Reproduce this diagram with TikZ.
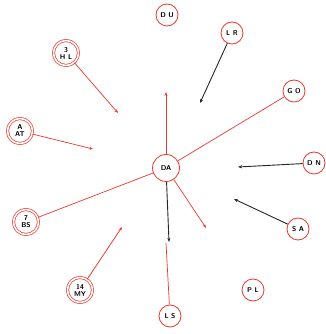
\documentclass[tikz,border=0pt]{standalone}
\usetikzlibrary{arrows.meta}
\definecolor{ring}{HTML}{E8392E}
\definecolor{ink}{HTML}{262626}

\begin{document}
\begin{tikzpicture}[x=1pt,y=1pt,font=\sffamily\bfseries\fontsize{7}{7}\selectfont,
  site/.style={circle,draw=ring,line width=0.8pt,minimum size=22pt,inner sep=0pt,align=center},
  hub/.style={site,double=white,double distance=1.6pt,line width=0.7pt,minimum size=25pt},
  pull/.style={ring,line width=0.7pt,-{Stealth[length=4pt,width=3pt]}},
  push/.style={ink,line width=0.9pt,-{Stealth[length=4pt,width=3pt]}},
  tie/.style={ring,line width=0.7pt}]
  \useasboundingbox (0,0) rectangle (325,334);
  % sites
  \foreach \nm/\x/\y/\txt in {du/167/319/{D U},lr/232/301/{L R},go/294/243/{G O},
    dn/314/171/{D N},sa/298/105/{S A},pl/253/44/{P L},ls/170/18/{L S}}{
    \node[site] (\nm) at (\x,\y) {\txt};}
  \node[site,minimum size=27pt] (da) at (166,166) {DA};
  \foreach \nm/\x/\y/\txt in {hl/66/281/{3\\H L},at/20/203/{A\\AT},
    bs/26/112/{7\\BS},my/80/44/{14\\MY}}{
    \node[hub] (\nm) at (\x,\y) {\txt};}
  % free ends
  \coordinate (hlend) at (118,221);
  \coordinate (atend) at (93,185);
  \coordinate (lrend) at (200,231);
  \coordinate (upend) at (166,242);
  \coordinate (dnend) at (238,167);
  \coordinate (saend) at (234,135);
  \coordinate (drend) at (206,106);
  \coordinate (myend) at (122,107);
  \coordinate (dwend) at (169,92);
  \coordinate (lsend) at (166,91);
  % arrows
  \draw[pull] (hl) -- (hlend);
  \draw[pull] (at) -- (atend);
  \draw[push] (lr) -- (lrend);
  \draw[tie] (go) -- (da);
  \draw[pull] (da) -- (upend);
  \draw[push] (dn) -- (dnend);
  \draw[push] (sa) -- (saend);
  \draw[pull] (da) -- (drend);
  \draw[tie] (bs) -- (da);
  \draw[pull] (my) -- (myend);
  \draw[push] (da) -- (dwend);
  \draw[tie] (ls) -- (lsend);
\end{tikzpicture}
\end{document}
